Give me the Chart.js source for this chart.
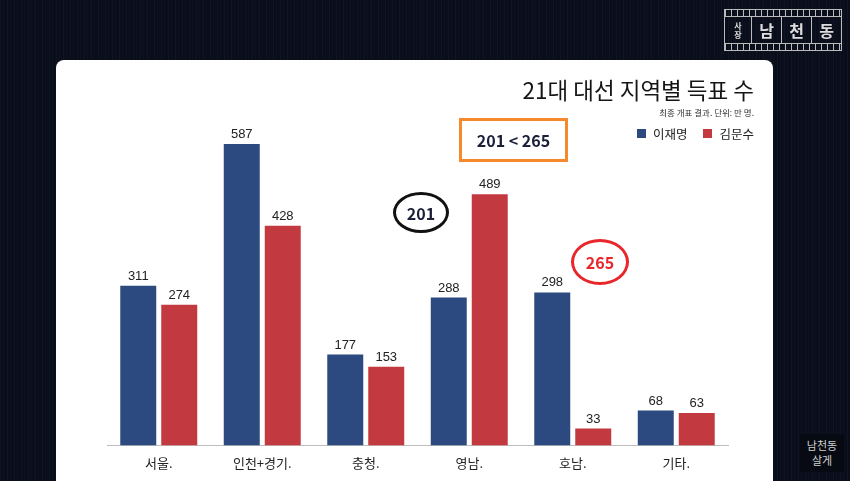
<!DOCTYPE html>
<html>
<head>
<meta charset="utf-8">
<script src="https://cdn.jsdelivr.net/npm/chart.js@4.4.1/dist/chart.umd.min.js"></script>
<style>
  html, body { margin: 0; padding: 0; }
  body {
    width: 850px; height: 481px; overflow: hidden; position: relative;
    background: #0a0e1b;
    background-image: repeating-linear-gradient(90deg, rgba(60,80,120,0.10) 0 1px, transparent 1px 3px, rgba(30,45,80,0.12) 3px 4px, transparent 4px 7px);
    font-family: "Noto Sans CJK KR", "Noto Sans", sans-serif;
  }
  .card { position: absolute; left: 56px; top: 60px; width: 717px; height: 440px; background: #fff; border-radius: 8px; }
  #wrap { position: absolute; left: 0; top: 0; width: 850px; height: 481px; }
  .title { position: absolute; right: 96px; top: 73px; font-size: 22.5px; font-weight: 400; color: #151515; white-space: nowrap; }
  .sub { position: absolute; right: 96px; top: 106px; font-size: 8.5px; color: #333; white-space: nowrap; }
  .legend { position: absolute; right: 96px; top: 124px; font-size: 12.5px; color: #222; display: flex; align-items: center; white-space: nowrap; }
  .legend i { display: inline-block; width: 9px; height: 9px; margin-right: 7px; }
  .legend span { margin-right: 16px; }
  .legend span:last-child { margin-right: 0; }
  .box { position: absolute; left: 459px; top: 118px; width: 103px; height: 38px; border: 3px solid #f5892b;
         display: flex; align-items: center; justify-content: center; font-weight: 700; font-size: 16px; color: #1b2038; }
  .ring { position: absolute; border-radius: 50%; display: flex; align-items: center; justify-content: center; font-weight: 700; font-size: 16px; }
  .logo { position: absolute; left: 724px; top: 9px; width: 118px; height: 42px; color: #ddd; }
  .logo .holes { position: absolute; left: 0; right: 0; height: 6px; border: 1px solid #bbb;
                 background: repeating-linear-gradient(90deg, #bbb 0 1px, transparent 1px 6px); }
  .logo .mid { position: absolute; left: 0; right: 0; top: 8px; height: 26px; border-left: 1px solid #bbb; border-right: 1px solid #bbb; display: flex; }
  .logo .mid div { flex: 1; display: flex; align-items: center; justify-content: center; border-left: 1px solid #bbb; font-size: 16px; font-weight: 700; }
  .logo .mid div.s { flex: 0.9; border-left: none; font-size: 8px; line-height: 9px; flex-direction: column; }
  .seal { position: absolute; left: 800px; top: 434px; width: 44px; height: 38px; background: #070a12; color: #cfcfcf;
          font-size: 11px; line-height: 15px; text-align: center; padding-top: 4px; box-sizing: border-box; }
</style>
</head>
<body>
<div class="card"></div>
<div id="wrap"><canvas id="chart" width="850" height="481"></canvas></div>

<div class="title">21대 대선 지역별 득표 수</div>
<div class="sub">최종 개표 결과. 단위: 만 명.</div>
<div class="legend" id="legend"></div>

<div class="box">201 &lt; 265</div>
<div class="ring" style="left:393px;top:192px;width:50px;height:35px;border:3px solid #111;color:#1b2038;">201</div>
<div class="ring" style="left:571px;top:239px;width:52px;height:40px;border:3px solid #e8262b;color:#e8262b;">265</div>

<div class="logo">
  <div class="holes" style="top:0"></div>
  <div class="mid"><div class="s"><span>사</span><span>장</span></div><div>남</div><div>천</div><div>동</div></div>
  <div class="holes" style="top:34px"></div>
</div>
<div class="seal">남천동<br>살게</div>

<script>
const regions = ['서울.', '인천+경기.', '충청.', '영남.', '호남.', '기타.'];
const leeVotes = [311, 587, 177, 288, 298, 68];
const kimVotes = [274, 428, 153, 489, 33, 63];
const seriesNames = ['이재명', '김문수'];
const seriesColors = ['#2c4a7f', '#c33940'];

// legend
document.getElementById('legend').innerHTML = seriesNames
  .map((n, i) => `<i style="background:${seriesColors[i]}"></i><span>${n}</span>`).join('');

// value labels on top of bars
const valueLabels = {
  id: 'valueLabels',
  afterDatasetsDraw(chart) {
    const ctx = chart.ctx;
    ctx.save();
    ctx.font = '13px "Liberation Sans", Arial, sans-serif';
    ctx.fillStyle = '#222';
    ctx.textAlign = 'center';
    ctx.textBaseline = 'bottom';
    chart.data.datasets.forEach((ds, di) => {
      chart.getDatasetMeta(di).data.forEach((bar, i) => {
        ctx.fillText(ds.data[i], bar.x, bar.y - 3);
      });
    });
    ctx.restore();
  }
};

new Chart(document.getElementById('chart'), {
  type: 'bar',
  data: {
    labels: regions,
    datasets: [
      { label: seriesNames[0], data: leeVotes, backgroundColor: seriesColors[0] },
      { label: seriesNames[1], data: kimVotes, backgroundColor: seriesColors[1] }
    ]
  },
  options: {
    responsive: false,
    animation: false,
    events: [],
    categoryPercentage: 0.792,
    barPercentage: 0.878,
    layout: { padding: { left: 107, right: 122, top: 86, bottom: 0 } },
    plugins: { legend: { display: false }, tooltip: { enabled: false } },
    scales: {
      x: {
        grid: { display: false, drawTicks: false },
        border: { display: true, color: '#bdbdbd', width: 1 },
        ticks: { color: '#222', padding: 10, font: { family: '"Noto Sans CJK KR"', size: 13 } }
      },
      y: { display: false, min: 0, max: 700 }
    }
  },
  plugins: [valueLabels]
});
</script>
</body>
</html>
